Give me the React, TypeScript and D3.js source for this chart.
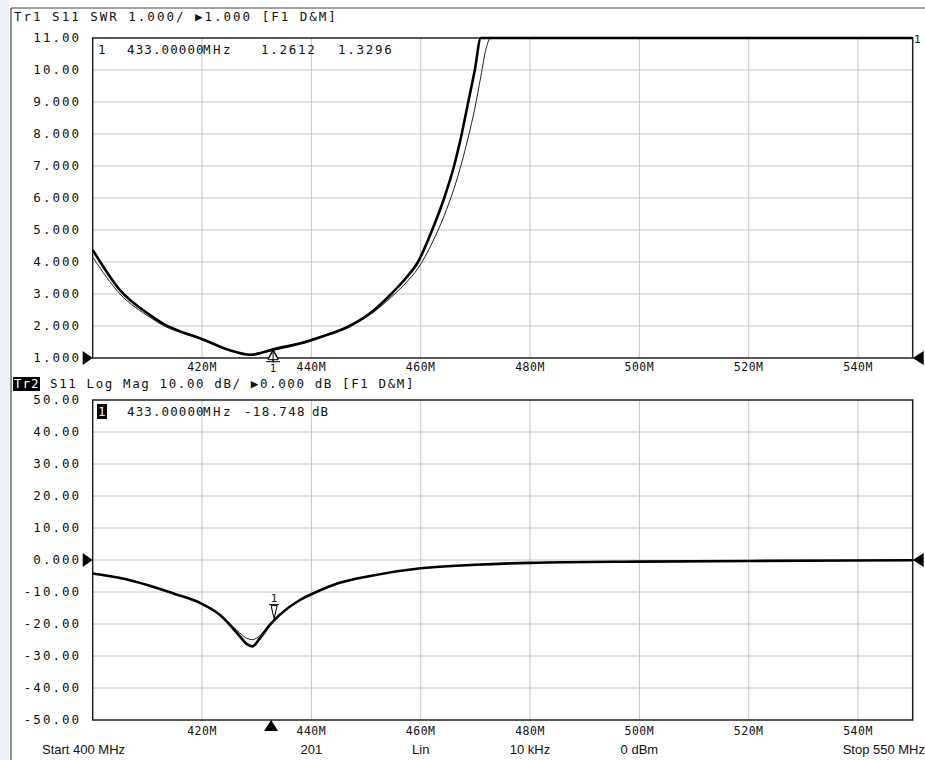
import * as d3 from "d3";

// stimulus axis
const xGridFreqs = [420, 440, 460, 480, 500, 520, 540];
const xTickLabels = ["420M", "440M", "460M", "480M", "500M", "520M", "540M"];

// Tr1: SWR
const swrTicks = [11, 10, 9, 8, 7, 6, 5, 4, 3, 2, 1];
const swrTickLabels = ["11.00", "10.00", "9.000", "8.000", "7.000", "6.000", "5.000", "4.000", "3.000", "2.000", "1.000"];
const freqSwr = [400, 405, 410.5, 413.2, 416.5, 419.6, 425.1, 428.8, 430.6, 433, 437.9, 441.6, 447.0, 451.5, 454.6, 457.3, 459.5, 462.1, 464.3, 466.1, 467.5, 468.7, 469.9, 471.0, 472.0, 472.8, 480, 500, 550];
const swrData = [4.38, 3.12, 2.34, 2.04, 1.8, 1.62, 1.24, 1.1, 1.15, 1.26, 1.45, 1.65, 2.0, 2.5, 3.0, 3.5, 4.0, 5.0, 6.0, 7.0, 8.0, 9.0, 10.0, 11.0, 11.6, 12.0, 16, 21, 26];
const swrMem = [4.15, 3.0, 2.27, 1.99, 1.77, 1.6, 1.23, 1.1, 1.17, 1.3, 1.48, 1.67, 1.98, 2.45, 2.9, 3.35, 3.8, 4.6, 5.45, 6.3, 7.1, 7.9, 8.8, 9.8, 10.7, 11.2, 16, 21, 26];

// Tr2: Log Mag
const lmTicks = [50, 40, 30, 20, 10, 0, -10, -20, -30, -40, -50];
const lmTickLabels = ["50.00", "40.00", "30.00", "20.00", "10.00", "0.000", "-10.00", "-20.00", "-30.00", "-40.00", "-50.00"];
const freqLm = [400, 405, 410, 415, 419.6, 423.3, 426.9, 428.2, 429.2, 430.6, 432.4, 434.3, 437.9, 440.4, 445, 451, 460, 470, 480, 500, 520, 550];
const lmData = [-4.2, -5.6, -7.8, -10.6, -13.4, -17.2, -23.8, -26.3, -27.0, -24.4, -20.3, -17.0, -12.5, -10.4, -7.2, -4.9, -2.6, -1.5, -0.9, -0.5, -0.3, -0.1];
const lmMem = [-4.2, -5.6, -7.8, -10.6, -13.4, -17.0, -22.8, -24.5, -24.9, -23.6, -20.0, -16.8, -12.5, -10.4, -7.2, -4.9, -2.6, -1.5, -0.9, -0.5, -0.3, -0.1];

const markerFreq = 433;
const footerLabels = ["Start 400 MHz", "201", "Lin", "10 kHz", "0 dBm", "Stop 550 MHz"];
const footerFreqs = [400, 440, 460, 480, 500, 550];

const MONO = "'DejaVu Sans Mono', monospace";
const NARROW = "'Liberation Sans Narrow', 'Liberation Sans', sans-serif";

const x = d3.scaleLinear().domain([400, 550]).range([92.7, 912.7]);
const ySwr = d3.scaleLinear().domain([1, 11]).range([358, 38]).clamp(true);
const yLm = d3.scaleLinear().domain([-50, 50]).range([720, 400]).clamp(true);

const makeLine = (freqs: number[], y: d3.ScaleLinear<number, number>, lo: number, hi: number) =>
  d3
    .line<number>()
    .x((_, i) => x(freqs[i]))
    .y((v) => y(Math.max(lo, Math.min(hi, v))))
    .curve(d3.curveMonotoneX);

const Panel = (props: {
  y: d3.ScaleLinear<number, number>;
  ticks: number[];
  labels: string[];
  refValue: number;
  labelY: number;
}) => {
  const { y, ticks, labels, refValue, labelY } = props;
  const [top, bottom] = [y(ticks[0]), y(ticks[ticks.length - 1])];
  const left = x(400);
  const right = x(550);
  const ry = y(refValue);
  return (
    <g>
      {ticks.slice(1, -1).map((t) => (
        <line key={"h" + t} x1={left} x2={right} y1={y(t)} y2={y(t)} stroke="#c4c4c4" strokeWidth={1} />
      ))}
      {xGridFreqs.map((f) => (
        <line key={"v" + f} x1={x(f)} x2={x(f)} y1={top} y2={bottom} stroke="#c4c4c4" strokeWidth={1} />
      ))}
      <rect x={left} y={top} width={right - left} height={bottom - top} fill="none" stroke="#222" strokeWidth={1.5} />
      {ticks.map((t, i) => (
        <text key={"t" + t} x={81} y={y(t) + 4} textAnchor="end" fontFamily={MONO} fontSize={12.5} letterSpacing={2} fill="#111">
          {labels[i]}
        </text>
      ))}
      {xGridFreqs.map((f, i) => (
        <text key={"x" + f} x={x(f)} y={labelY} textAnchor="middle" fontFamily={MONO} fontSize={11.5} letterSpacing={0.5} fill="#111">
          {xTickLabels[i]}
        </text>
      ))}
      <path d={`M${left - 10},${ry - 7}L${left},${ry}L${left - 10},${ry + 7}Z`} fill="#000" />
      <path d={`M${right + 11},${ry - 7}L${right},${ry}L${right + 11},${ry + 7}Z`} fill="#000" />
    </g>
  );
};

export default function App() {
  const swrLine = makeLine(freqSwr, ySwr, 1, 11);
  const lmLine = makeLine(freqLm, yLm, -50, 50);
  const mx = x(markerFreq);
  const mi = freqSwr.indexOf(markerFreq);
  const lmAt = d3.interpolateNumber(lmData[10], lmData[11])((markerFreq - freqLm[10]) / (freqLm[11] - freqLm[10]));
  const mTop = ySwr(swrData[mi]);
  const mTopMem = ySwr(swrMem[mi]);
  const mBot = yLm(lmAt);

  return (
    <svg width={925} height={760} style={{ position: "absolute", left: 0, top: 0, background: "#fff" }}>
      <rect x={0} y={0} width={9} height={760} fill="#edf1f5" />
      <line x1={11} x2={11} y1={8} y2={760} stroke="#444" strokeWidth={1.2} />
      <line x1={11} x2={925} y1={8} y2={8} stroke="#444" strokeWidth={1.2} />

      {/* Tr1 */}
      <text x={14} y={21} fontFamily={MONO} fontSize={12.5} letterSpacing={2} fill="#111">
        Tr1 S11 SWR 1.000/ ▶1.000 [F1 D&amp;M]
      </text>
      <Panel y={ySwr} ticks={swrTicks} labels={swrTickLabels} refValue={1} labelY={371} />
      <g fontFamily={MONO} fontSize={12.5} fill="#111">
        <text x={98} y={54}>1</text>
        <text x={127} y={54} letterSpacing={1.1}>433.00000</text>
        <text x={203} y={54} letterSpacing={2.5}>MHz</text>
        <text x={261} y={54} letterSpacing={1.7}>1.2612</text>
        <text x={338} y={54} letterSpacing={1.7}>1.3296</text>
        <text x={914} y={43} fontSize={11}>1</text>
      </g>
      <path d={swrLine(swrMem) ?? ""} fill="none" stroke="#222" strokeWidth={1} />
      <path d={swrLine(swrData) ?? ""} fill="none" stroke="#000" strokeWidth={2.6} />
      {[mTopMem, mTop].map((my, i) => (
        <g key={"mk" + i} stroke="#000" strokeWidth={1} fill="#fff">
          <path d={`M${mx},${my + 1}L${mx - 5},${my + 10}L${mx + 5},${my + 10}Z`} />
          <line x1={mx} x2={mx} y1={my + 1} y2={my + 13} />
        </g>
      ))}
      <line x1={mx - 7} x2={mx + 7} y1={mTop + 12} y2={mTop + 12} stroke="#000" strokeWidth={1} />
      <text x={mx} y={mTop + 22} textAnchor="middle" fontFamily={MONO} fontSize={10} fill="#111">1</text>

      {/* Tr2 */}
      <rect x={13} y={377} width={27} height={14} fill="#000" />
      <text x={14} y={388} fontFamily={MONO} fontSize={12.5} letterSpacing={1} fill="#fff">Tr2</text>
      <text x={50} y={388} fontFamily={MONO} fontSize={12.5} letterSpacing={1.6} fill="#111">
        S11 Log Mag 10.00 dB/ ▶0.000 dB [F1 D&amp;M]
      </text>
      <Panel y={yLm} ticks={lmTicks} labels={lmTickLabels} refValue={0} labelY={735} />
      <rect x={97} y={404} width={10} height={15} fill="#000" />
      <g fontFamily={MONO} fontSize={12.5} fill="#111">
        <text x={98} y={416} fill="#fff">1</text>
        <text x={127} y={416} letterSpacing={1.1}>433.00000</text>
        <text x={203} y={416} letterSpacing={2.5}>MHz</text>
        <text x={244} y={416} letterSpacing={1.3}>-18.748</text>
        <text x={312} y={416} letterSpacing={1}>dB</text>
      </g>
      <path d={lmLine(lmMem) ?? ""} fill="none" stroke="#222" strokeWidth={1} />
      <path d={lmLine(lmData) ?? ""} fill="none" stroke="#000" strokeWidth={2.6} />
      <path d={`M${mx - 2},${mBot - 16}L${mx + 4},${mBot - 16}L${mx + 1},${mBot - 3}Z`} fill="#fff" stroke="#000" strokeWidth={1} />
      <line x1={mx - 4} x2={mx + 6} y1={mBot - 17} y2={mBot - 17} stroke="#000" strokeWidth={1} />
      <text x={mx + 1} y={mBot - 20} textAnchor="middle" fontFamily={MONO} fontSize={11} fill="#111">1</text>
      <path d={`M${mx - 2},${720}L${mx - 9},${731}L${mx + 5},${731}Z`} fill="#000" />

      {/* footer */}
      {footerLabels.map((lbl, i) => (
        <text
          key={lbl}
          x={i === 0 ? 42 : i === footerLabels.length - 1 ? 925 : x(footerFreqs[i])}
          y={754}
          textAnchor={i === 0 ? "start" : i === footerLabels.length - 1 ? "end" : "middle"}
          fontFamily={NARROW}
          fontSize={13}
          fill="#111"
        >
          {lbl}
        </text>
      ))}
    </svg>
  );
}
